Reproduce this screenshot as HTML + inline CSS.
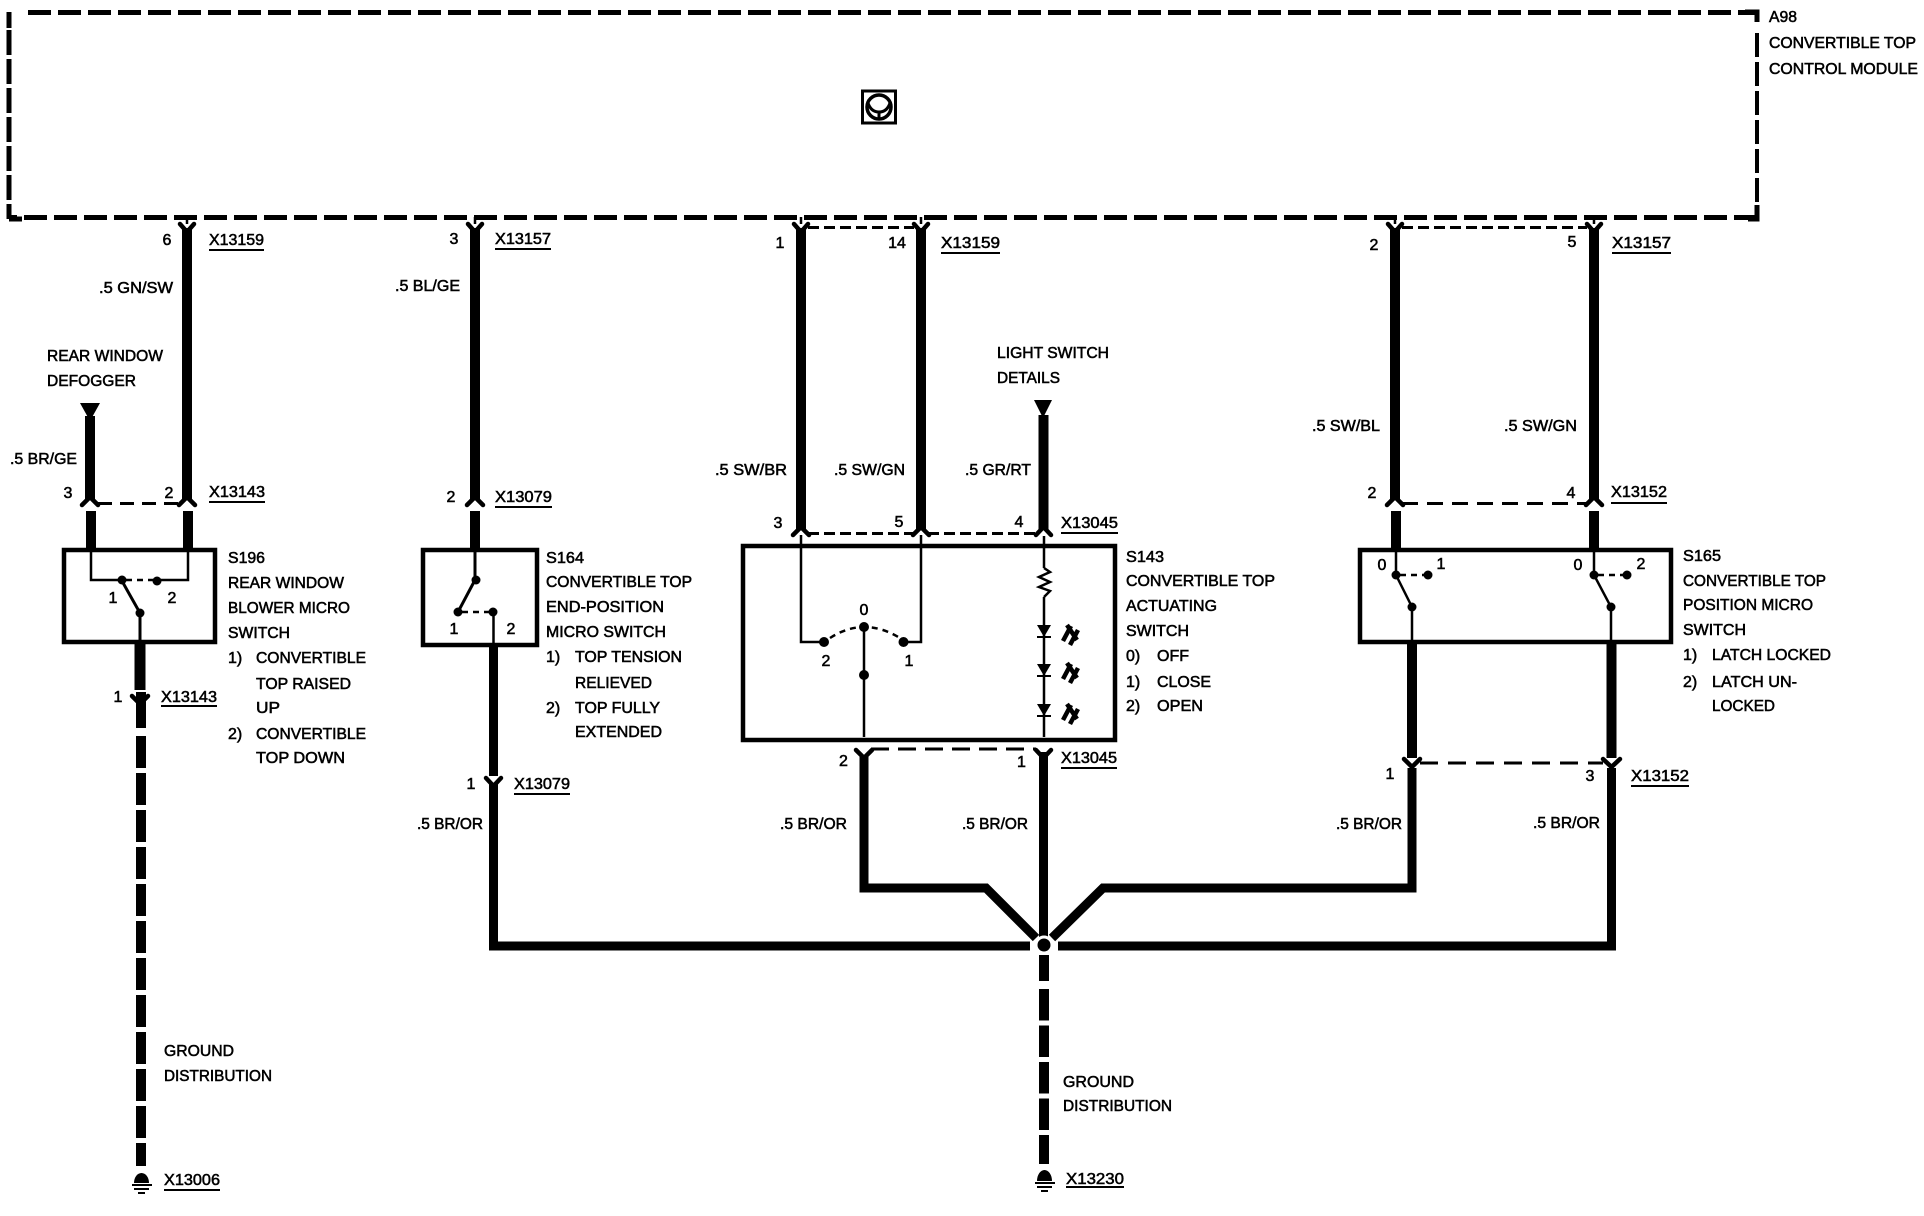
<!DOCTYPE html>
<html><head><meta charset="utf-8"><style>
html,body{margin:0;padding:0;background:#fff;width:1924px;height:1216px;overflow:hidden}
svg{display:block}
text{font-family:"Liberation Sans",Arial,sans-serif;font-size:16px;fill:#000;stroke:#000;stroke-width:.55px}
.d{text-anchor:middle}
</style></head><body>
<svg width="1924" height="1216" viewBox="0 0 1924 1216" xmlns="http://www.w3.org/2000/svg">
<rect width="1924" height="1216" fill="#fff"/>
<!-- module dashed box -->
<g fill="none" stroke="#000" stroke-width="5">
<path d="M28 12.500H1757" stroke-dasharray="23 7"/>
<path d="M1757 33V217" stroke-dasharray="24 5" stroke-width="4"/>
<path d="M1757 217.500H10" stroke-dasharray="23 7"/>
<path d="M9 30V219" stroke-dasharray="25 4"/>
<path d="M9 12V28M9 219H22M1745 12H1757V22M1757 205V219H1748"/>
</g>
<!-- icon -->
<g fill="none" stroke="#000">
<rect x="862.500" y="91" width="33" height="32" stroke-width="3"/>
<circle cx="879" cy="107" r="12" stroke-width="3.500"/>
<path d="M868 103Q871 112 879 112Q887 112 890 103M879 112V119" stroke-width="3"/>
</g>
<!-- stubs from module and short dashes -->
<g stroke="#000" stroke-width="2.500" fill="none">
<path d="M187 217V224M475 217V224M801 217V224M921 217V224M1395 217V224M1594 217V224"/>
</g>
<g fill="none" stroke="#000" stroke-width="3" stroke-dasharray="11 5">
<path d="M808 227.500H914"/>
<path d="M1402 227.500H1587"/>
<path d="M98 503.500H180" stroke-dasharray="14 8"/>
<path d="M808 533.500H915"/>
<path d="M928 533.500H1036"/>
<path d="M1402 503.500H1587" stroke-dasharray="16 9"/>
<path d="M871 749H1036" stroke-dasharray="18 9"/>
<path d="M1420 763H1603" stroke-dasharray="18 10"/>
</g>
<!-- thick wires -->
<g fill="none" stroke="#000" stroke-width="10">
<path d="M187 228V500"/>
<path d="M475 228V500"/>
<path d="M801 228V530"/>
<path d="M921 228V530"/>
<path d="M1395 228V500"/>
<path d="M1594 228V500"/>
<path d="M1043.500 415V530"/>
<path d="M90 416V500"/>
<path d="M91 511V549"/>
<path d="M188 511V549"/>
<path d="M475 511V549"/>
<path d="M1396 511V549"/>
<path d="M1594 511V549"/>
<path d="M140 642V690" stroke-width="11"/>
<path d="M1412 642V758"/>
<path d="M1611.500 642V758"/>
</g>
<g fill="none" stroke="#000" stroke-width="9">
<path d="M493.500 645V776"/>
<path d="M493.500 784V946H1030"/>
<path d="M864 755V888H986L1036 938"/>
<path d="M1412 768V888H1103L1052 938"/>
<path d="M1611.500 768V946H1058"/>
<path d="M1043.500 752V937"/>
</g>
<!-- junction -->
<circle cx="1044" cy="945" r="8" fill="#000" stroke="#fff" stroke-width="3"/>
<!-- ground dashes -->
<g fill="none" stroke="#000" stroke-width="10">
<path d="M141 692V728"/>
<path d="M141 736V1166" stroke-dasharray="32 5"/>
<path d="M1044 955V981"/>
<path d="M1044 989V1164" stroke-dasharray="31.500 5"/>
</g>
<!-- triangles -->
<path d="M80 403H100L90 421Z"/>
<path d="M1034 400H1052L1043 418Z"/>
<!-- connectors: top Y -->
<g fill="none" stroke="#000" stroke-width="4.500" stroke-linecap="round">
<path d="M180 224L187 232L194 224"/>
<path d="M468 224L475 232L482 224"/>
<path d="M794 224L801 232L808 224"/>
<path d="M914 224L921 232L928 224"/>
<path d="M1388 224L1395 232L1402 224"/>
<path d="M1587 224L1594 232L1601 224"/>
<path d="M132 696L140 704L148 696"/>
<path d="M486 778L493.500 786L501 778"/>
<path d="M856 750L864 758L872 750"/>
<path d="M1036 750L1043.500 758L1051 750"/>
<path d="M1404 759L1412 767L1420 759"/>
<path d="M1603 759L1611.500 767L1620 759"/>
<!-- bottom inverted Y -->
<path d="M82 505L90 497L98 505"/>
<path d="M179 505L187 497L195 505"/>
<path d="M467 505L475 497L483 505"/>
<path d="M793 535L801 527L809 535"/>
<path d="M913 535L921 527L929 535"/>
<path d="M1036 535L1043.500 527L1051 535"/>
<path d="M1387 505L1395 497L1403 505"/>
<path d="M1586 505L1594 497L1602 505"/>
</g>
<!-- component boxes -->
<g fill="none" stroke="#000" stroke-width="4.500">
<rect x="64" y="550" width="151" height="92"/>
<rect x="423" y="550" width="114" height="95"/>
<rect x="743" y="546" width="372" height="194"/>
<rect x="1360" y="550" width="311" height="92"/>
</g>
<!-- internals -->
<g fill="none" stroke="#000" stroke-width="2.500">
<path d="M91 549V580H122"/>
<path d="M188 549V580H157"/>
<path d="M122 581L140 613V642" stroke-width="3"/>
<path d="M475 549V580L458 612" stroke-width="3"/>
<path d="M493.500 612V645"/>
<path d="M801 535V642H824"/>
<path d="M921 535V642H904"/>
<path d="M864 628V737"/>
<path d="M1396 549V575L1412 607V642"/>
<path d="M1594 549V575L1611 607V642"/>
<path d="M1044 536V568M1044 597V737"/>
<path d="M1044 568L1050 572L1039 577L1050 582L1039 587L1050 591L1044 597" stroke-width="2.500"/>
</g>
<g fill="none" stroke="#000" stroke-width="2.500" stroke-dasharray="6 5">
<path d="M126 580H154"/>
<path d="M462 612H490"/>
<path d="M1400 575H1425"/>
<path d="M1598 575H1624"/>
<path d="M830 638Q864 616 900 638"/>
</g>
<g fill="#000">
<circle cx="122" cy="580" r="4.500"/><circle cx="157" cy="581" r="4.500"/><circle cx="140" cy="613" r="4.500"/>
<circle cx="476" cy="580" r="4.500"/><circle cx="458" cy="612" r="4.500"/><circle cx="493" cy="612" r="4.500"/>
<circle cx="824" cy="642" r="5"/><circle cx="903.500" cy="642" r="5"/><circle cx="864" cy="627" r="5"/><circle cx="864" cy="675" r="5"/>
<circle cx="1396" cy="575" r="4.500"/><circle cx="1428" cy="575" r="4.500"/><circle cx="1412" cy="607" r="4.500"/>
<circle cx="1594" cy="575" r="4.500"/><circle cx="1627" cy="575" r="4.500"/><circle cx="1611" cy="607" r="4.500"/>
<!-- diodes -->
<path d="M1037 625H1051L1044 637Z"/><path d="M1037 664H1051L1044 676Z"/><path d="M1037 704H1051L1044 716Z"/>
</g>
<g fill="none" stroke="#000" stroke-width="2">
<path d="M1037 637H1051M1037 676H1051M1037 716H1051"/>
</g>
<g fill="none" stroke="#000" stroke-width="4.500">
<path d="M1063 641L1071 626M1070 645L1078 630M1067 625L1077 640"/>
<path d="M1063 679L1071 664M1070 683L1078 668M1067 663L1077 678"/>
<path d="M1063 720L1071 705M1070 724L1078 709M1067 704L1077 719"/>
</g>
<!-- ground symbols -->
<g fill="#000">
<path d="M134 1183A7.500 10 0 0 1 149 1183Z"/><rect x="132" y="1184" width="20" height="2"/><rect x="134" y="1188" width="15" height="2"/><rect x="138" y="1192" width="7" height="2"/>
<path d="M1037 1181A7.500 11 0 0 1 1052 1181Z"/><rect x="1035" y="1182" width="20" height="2"/><rect x="1037" y="1186" width="15" height="2"/><rect x="1041" y="1190" width="7" height="2"/>
</g>
<!-- underlines -->
<g stroke="#000" stroke-width="2" fill="none">
<path d="M209 250H264M495 249H551M941 253H1000M1612 253H1671M209 502H265M495 507H552M1061 533H1118M1611 503H1667M161 706H217M514 794H570M1061 768H1117M1631 786H1689M164 1190H220M1066 1187H1124"/>
</g>
<!-- labels -->
<text x="209" y="245" textLength="55" lengthAdjust="spacingAndGlyphs">X13159</text>
<text x="495" y="244" textLength="56" lengthAdjust="spacingAndGlyphs">X13157</text>
<text x="941" y="248" textLength="59" lengthAdjust="spacingAndGlyphs">X13159</text>
<text x="1612" y="248" textLength="59" lengthAdjust="spacingAndGlyphs">X13157</text>
<text x="209" y="497" textLength="56" lengthAdjust="spacingAndGlyphs">X13143</text>
<text x="495" y="502" textLength="57" lengthAdjust="spacingAndGlyphs">X13079</text>
<text x="1061" y="528" textLength="57" lengthAdjust="spacingAndGlyphs">X13045</text>
<text x="1611" y="497" textLength="56" lengthAdjust="spacingAndGlyphs">X13152</text>
<text x="161" y="702" textLength="56" lengthAdjust="spacingAndGlyphs">X13143</text>
<text x="514" y="789" textLength="56" lengthAdjust="spacingAndGlyphs">X13079</text>
<text x="1061" y="763" textLength="56" lengthAdjust="spacingAndGlyphs">X13045</text>
<text x="1631" y="781" textLength="58" lengthAdjust="spacingAndGlyphs">X13152</text>
<text x="164" y="1185" textLength="56" lengthAdjust="spacingAndGlyphs">X13006</text>
<text x="1066" y="1184" textLength="58" lengthAdjust="spacingAndGlyphs">X13230</text>

<text class="d" x="167" y="245">6</text>
<text class="d" x="454" y="244">3</text>
<text class="d" x="780" y="248">1</text>
<text class="d" x="897" y="248">14</text>
<text class="d" x="1374" y="250">2</text>
<text class="d" x="1572" y="247">5</text>
<text class="d" x="68" y="498">3</text>
<text class="d" x="169" y="498">2</text>
<text class="d" x="451" y="502">2</text>
<text class="d" x="778" y="528">3</text>
<text class="d" x="899" y="527">5</text>
<text class="d" x="1019" y="527">4</text>
<text class="d" x="1372" y="498">2</text>
<text class="d" x="1571" y="498">4</text>
<text class="d" x="113" y="603">1</text>
<text class="d" x="172" y="603">2</text>
<text class="d" x="454" y="634">1</text>
<text class="d" x="511" y="634">2</text>
<text class="d" x="864" y="615">0</text>
<text class="d" x="826" y="666">2</text>
<text class="d" x="909" y="666">1</text>
<text class="d" x="1382" y="570">0</text>
<text class="d" x="1441" y="569">1</text>
<text class="d" x="1578" y="570">0</text>
<text class="d" x="1641" y="569">2</text>
<text class="d" x="118" y="702">1</text>
<text class="d" x="471" y="789">1</text>
<text class="d" x="843.500" y="766">2</text>
<text class="d" x="1021.500" y="767">1</text>
<text class="d" x="1390" y="779">1</text>
<text class="d" x="1590" y="781">3</text>

<text x="99" y="293" textLength="74" lengthAdjust="spacingAndGlyphs">.5 GN/SW</text>
<text x="395" y="291" textLength="65" lengthAdjust="spacingAndGlyphs">.5 BL/GE</text>
<text x="10" y="464" textLength="67" lengthAdjust="spacingAndGlyphs">.5 BR/GE</text>
<text x="715" y="475" textLength="72" lengthAdjust="spacingAndGlyphs">.5 SW/BR</text>
<text x="834" y="475" textLength="71" lengthAdjust="spacingAndGlyphs">.5 SW/GN</text>
<text x="965" y="475" textLength="66" lengthAdjust="spacingAndGlyphs">.5 GR/RT</text>
<text x="1312" y="431" textLength="68" lengthAdjust="spacingAndGlyphs">.5 SW/BL</text>
<text x="1504" y="431" textLength="73" lengthAdjust="spacingAndGlyphs">.5 SW/GN</text>
<text x="417" y="829" textLength="66" lengthAdjust="spacingAndGlyphs">.5 BR/OR</text>
<text x="780" y="829" textLength="67" lengthAdjust="spacingAndGlyphs">.5 BR/OR</text>
<text x="962" y="829" textLength="66" lengthAdjust="spacingAndGlyphs">.5 BR/OR</text>
<text x="1336" y="829" textLength="66" lengthAdjust="spacingAndGlyphs">.5 BR/OR</text>
<text x="1533" y="828" textLength="67" lengthAdjust="spacingAndGlyphs">.5 BR/OR</text>

<text x="47" y="361" textLength="116" lengthAdjust="spacingAndGlyphs">REAR WINDOW</text>
<text x="47" y="386" textLength="89" lengthAdjust="spacingAndGlyphs">DEFOGGER</text>
<text x="997" y="358" textLength="112" lengthAdjust="spacingAndGlyphs">LIGHT SWITCH</text>
<text x="997" y="383" textLength="63" lengthAdjust="spacingAndGlyphs">DETAILS</text>
<text x="1769" y="22" textLength="28" lengthAdjust="spacingAndGlyphs">A98</text>
<text x="1769" y="48" textLength="147" lengthAdjust="spacingAndGlyphs">CONVERTIBLE TOP</text>
<text x="1769" y="74" textLength="149" lengthAdjust="spacingAndGlyphs">CONTROL MODULE</text>

<text x="228" y="563" textLength="37" lengthAdjust="spacingAndGlyphs">S196</text>
<text x="228" y="588" textLength="116" lengthAdjust="spacingAndGlyphs">REAR WINDOW</text>
<text x="228" y="613" textLength="122" lengthAdjust="spacingAndGlyphs">BLOWER MICRO</text>
<text x="228" y="638" textLength="62" lengthAdjust="spacingAndGlyphs">SWITCH</text>
<text x="228" y="663">1)</text><text x="256" y="663" textLength="110" lengthAdjust="spacingAndGlyphs">CONVERTIBLE</text>
<text x="256" y="689" textLength="95" lengthAdjust="spacingAndGlyphs">TOP RAISED</text>
<text x="256" y="713" textLength="24" lengthAdjust="spacingAndGlyphs">UP</text>
<text x="228" y="739">2)</text><text x="256" y="739" textLength="110" lengthAdjust="spacingAndGlyphs">CONVERTIBLE</text>
<text x="256" y="763" textLength="89" lengthAdjust="spacingAndGlyphs">TOP DOWN</text>

<text x="546" y="563" textLength="38" lengthAdjust="spacingAndGlyphs">S164</text>
<text x="546" y="587" textLength="146" lengthAdjust="spacingAndGlyphs">CONVERTIBLE TOP</text>
<text x="546" y="612" textLength="118" lengthAdjust="spacingAndGlyphs">END-POSITION</text>
<text x="546" y="637" textLength="120" lengthAdjust="spacingAndGlyphs">MICRO SWITCH</text>
<text x="546" y="662">1)</text><text x="575" y="662" textLength="107" lengthAdjust="spacingAndGlyphs">TOP TENSION</text>
<text x="575" y="688" textLength="77" lengthAdjust="spacingAndGlyphs">RELIEVED</text>
<text x="546" y="713">2)</text><text x="575" y="713" textLength="85" lengthAdjust="spacingAndGlyphs">TOP FULLY</text>
<text x="575" y="737" textLength="87" lengthAdjust="spacingAndGlyphs">EXTENDED</text>

<text x="1126" y="562" textLength="38" lengthAdjust="spacingAndGlyphs">S143</text>
<text x="1126" y="586" textLength="149" lengthAdjust="spacingAndGlyphs">CONVERTIBLE TOP</text>
<text x="1126" y="611" textLength="91" lengthAdjust="spacingAndGlyphs">ACTUATING</text>
<text x="1126" y="636" textLength="63" lengthAdjust="spacingAndGlyphs">SWITCH</text>
<text x="1126" y="661">0)</text><text x="1157" y="661" textLength="32" lengthAdjust="spacingAndGlyphs">OFF</text>
<text x="1126" y="687">1)</text><text x="1157" y="687" textLength="54" lengthAdjust="spacingAndGlyphs">CLOSE</text>
<text x="1126" y="711">2)</text><text x="1157" y="711" textLength="46" lengthAdjust="spacingAndGlyphs">OPEN</text>

<text x="1683" y="561" textLength="38" lengthAdjust="spacingAndGlyphs">S165</text>
<text x="1683" y="586" textLength="143" lengthAdjust="spacingAndGlyphs">CONVERTIBLE TOP</text>
<text x="1683" y="610" textLength="130" lengthAdjust="spacingAndGlyphs">POSITION MICRO</text>
<text x="1683" y="635" textLength="63" lengthAdjust="spacingAndGlyphs">SWITCH</text>
<text x="1683" y="660">1)</text><text x="1712" y="660" textLength="119" lengthAdjust="spacingAndGlyphs">LATCH LOCKED</text>
<text x="1683" y="687">2)</text><text x="1712" y="687" textLength="85" lengthAdjust="spacingAndGlyphs">LATCH UN-</text>
<text x="1712" y="711" textLength="63" lengthAdjust="spacingAndGlyphs">LOCKED</text>

<text x="164" y="1056" textLength="70" lengthAdjust="spacingAndGlyphs">GROUND</text>
<text x="164" y="1081" textLength="108" lengthAdjust="spacingAndGlyphs">DISTRIBUTION</text>
<text x="1063" y="1087" textLength="71" lengthAdjust="spacingAndGlyphs">GROUND</text>
<text x="1063" y="1111" textLength="109" lengthAdjust="spacingAndGlyphs">DISTRIBUTION</text>
</svg>
</body></html>
